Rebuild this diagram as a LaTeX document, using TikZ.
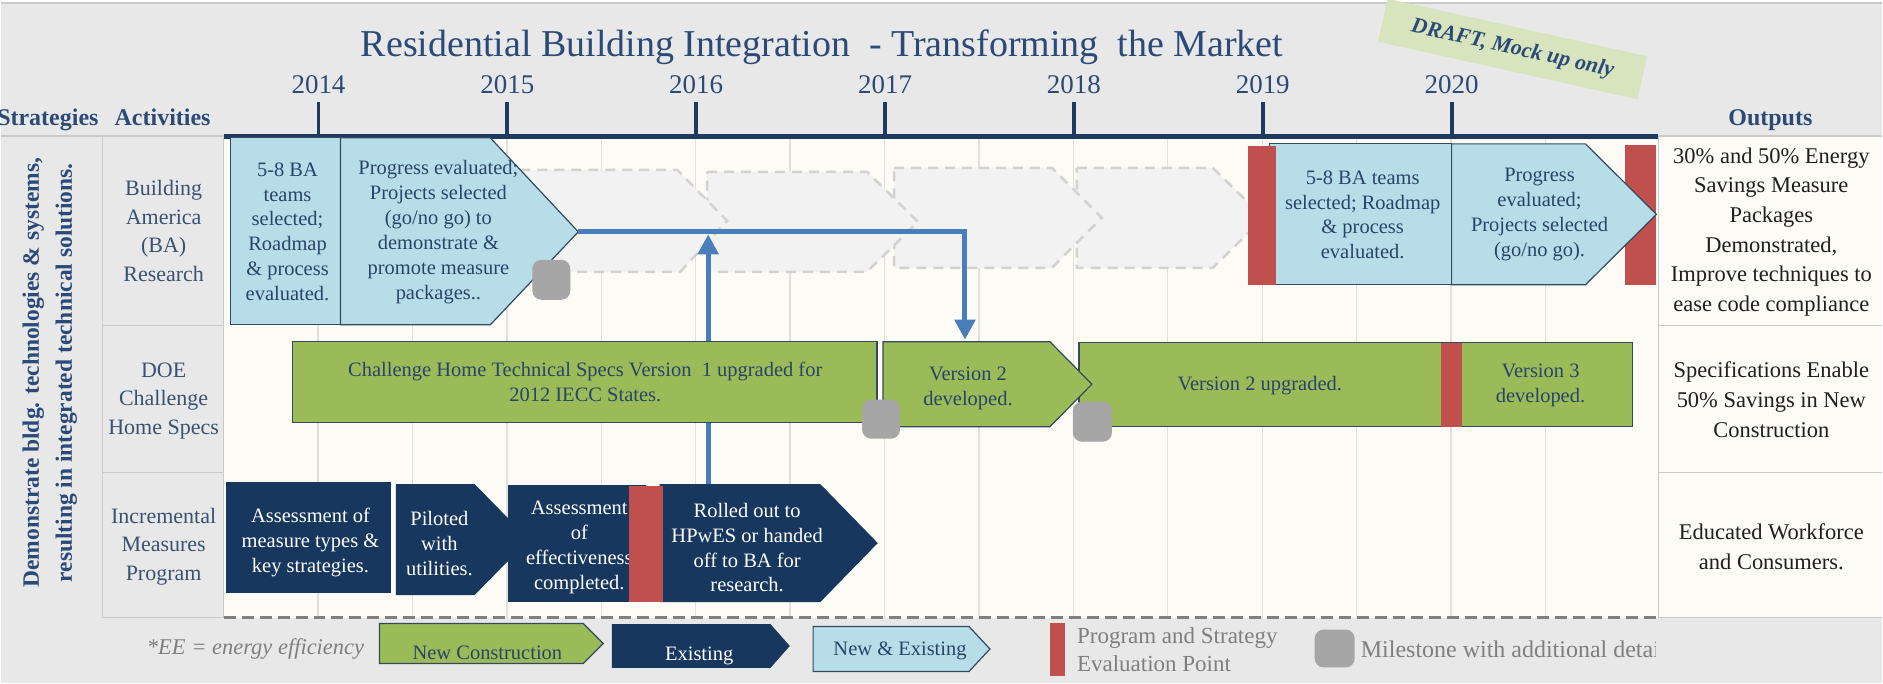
\documentclass[tikz,border=0pt]{standalone}
\usepackage{fontspec}
\setmainfont{Liberation Serif}
\usetikzlibrary{arrows.meta}
\definecolor{bggrey}{HTML}{E8E8E8}
\definecolor{cream}{HTML}{FDFBF5}
\definecolor{gridc}{HTML}{E0E0E0}
\definecolor{cellline}{HTML}{C9C9C9}
\definecolor{navyline}{HTML}{1F3A60}
\definecolor{titleblue}{HTML}{2C4A78}
\definecolor{txtblue}{HTML}{2A4468}
\definecolor{lblc}{HTML}{3A5272}
\definecolor{lblue}{HTML}{B7DDE8}
\definecolor{ngreen}{HTML}{9BBB59}
\definecolor{darkbox}{HTML}{17375E}
\definecolor{redbar}{HTML}{C0504D}
\definecolor{msgrey}{HTML}{A6A6A6}
\definecolor{connc}{HTML}{4A7EBB}
\definecolor{chevfill}{HTML}{F2F2F2}
\definecolor{chevline}{HTML}{D2D2D2}
\definecolor{stampc}{HTML}{D7E4BD}
\definecolor{legtxt}{HTML}{7F7F7F}
\definecolor{edgec}{HTML}{34495E}
\begin{document}
\begin{tikzpicture}[x=1pt,y=-1pt,
  boxtext/.style={align=center, inner sep=0pt, text=txtblue, font=\fontsize{20.5}{25}\selectfont},
  whitetext/.style={boxtext, text=white},
  lbl/.style={align=center, inner sep=0pt, text=lblc, font=\fontsize{22}{28.5}\selectfont},
  outtext/.style={align=center, inner sep=0pt, text=black!88, font=\fontsize{22.5}{29.6}\selectfont},
  hdr/.style={inner sep=0pt, text=titleblue, font=\bfseries\fontsize{24}{26}\selectfont},
  yearlbl/.style={inner sep=0pt, text=titleblue, font=\fontsize{27}{30}\selectfont},
  legtext/.style={inner sep=0pt, text=legtxt, font=\fontsize{23}{28}\selectfont},
  lbox/.style={fill=lblue, draw=edgec, line width=1.2pt},
  gbox/.style={fill=ngreen, draw=edgec, line width=1.2pt},
  dbox/.style={fill=darkbox, draw=darkbox, line width=1pt},
  rbar/.style={fill=redbar, draw=none},
  mstone/.style={fill=msgrey, draw=none, rounded corners=9pt},
  chev/.style={fill=chevfill, draw=chevline, dash pattern=on 10pt off 7pt, line width=2.5pt},
  conn/.style={draw=connc, line width=5pt, -{Triangle[length=20pt,width=20pt]}},
  cell/.style={draw=cellline, line width=1.5pt}
]
% background and frame
\fill[bggrey] (0,0) rectangle (1883,684);
\fill[white] (0,0) rectangle (1883,2);
\draw[cellline, line width=1.5pt] (0,3) -- (1883,3);
\useasboundingbox (0,0) rectangle (1883,684);
\fill[cream] (223,136) rectangle (1883,618);

% grid lines
\foreach \k in {1,...,14} {
  \draw[gridc, line width=1.3pt] ({223+94.5*\k},136) -- ({223+94.5*\k},618);
}

% cell borders
\draw[cell] (0,136) -- (223,136);
\draw[cell] (102,136) -- (102,618) -- (223,618);
\draw[cell] (223,136) -- (223,618);
\draw[cell] (102,326) -- (223,326);
\draw[cell] (102,473) -- (223,473);
\draw[cell] (1659,136) -- (1883,136);
\draw[cell] (1659,136) -- (1659,618) -- (1883,618);
\draw[cell] (1659,326) -- (1883,326);
\draw[cell] (1659,473) -- (1883,473);
\draw[draw=legtxt, line width=3pt, dash pattern=on 12pt off 6pt] (223,618) -- (1659,618);

% title and headers
\node[anchor=base, inner sep=0pt, text=titleblue, font=\fontsize{38}{40}\selectfont] (title) at (822,57)
  {Residential Building Integration\ \ - Transforming\ \ the Market};
\node[hdr, anchor=base east] (hstrat) at (98,126) {Strategies};
\node[hdr, anchor=base] (hact) at (162,126) {Activities};
\node[hdr, anchor=base] (hout) at (1771,126) {Outputs};

% timeline
\draw[navyline, line width=5pt] (223,136.5) -- (1659,136.5);
\foreach \y [count=\i from 0] in {2014,2015,2016,2017,2018,2019,2020} {
  \draw[navyline, line width=4pt] ({318+189*\i},102) -- ({318+189*\i},136);
  \node[yearlbl, anchor=base] (yr\y) at ({318+189*\i},94) {\y};
}

% strategy (rotated)
\node[rotate=90, align=center, inner sep=0pt, text=titleblue, font=\bfseries\fontsize{23.5}{33}\selectfont] (strat) at (49,373)
  {Demonstrate bldg. technologies \& systems,\\resulting in integrated technical solutions.};

% activity labels
\node[lbl] (actba) at (163,231) {Building\\America\\(BA)\\Research};
\node[lbl] (actdoe) at (163,401) {DOE\\Challenge\\Home Specs};
\node[lbl] (actinc) at (163,547) {Incremental\\Measures\\Program};

% ghost chevrons (row 1)
\draw[chev] (1077,168) -- (1213,168) -- (1264,218) -- (1213,268) -- (1077,268) -- cycle;
\draw[chev] (894,168) -- (1052,168) -- (1102,218) -- (1052,268) -- (894,268) -- cycle;
\draw[chev] (707,172) -- (867,172) -- (918,222) -- (867,272) -- (707,272) -- cycle;
\draw[chev] (520,170) -- (677,170) -- (727,221) -- (680,272) -- (520,272) -- cycle;

% row 1 boxes (BA)
\draw[lbox] (230,138) rectangle (340,325);
\node[boxtext] (ba1) at (287,232) {5-8 BA\\teams\\selected;\\Roadmap\\\& process\\evaluated.};
\draw[lbox] (340,138) -- (490,138) -- (578,232) -- (490,325) -- (340,325) -- cycle;
\node[boxtext] (ba2) at (438,232) {Progress evaluated;\\Projects selected\\(go/no go) to\\demonstrate \&\\promote measure\\packages..};
\draw[mstone] (532,260) rectangle (570,300);

\draw[lbox] (1270,144) rectangle (1452,285);
\node[boxtext] (ba3) at (1363,215) {5-8 BA teams\\selected; Roadmap\\\& process\\evaluated.};
\fill[rbar] (1248,146) rectangle (1276,285);
\fill[rbar] (1626,145) rectangle (1657,285);
\draw[lbox] (1452,144) -- (1586,144) -- (1657,214.5) -- (1586,285) -- (1452,285) -- cycle;
\node[boxtext] (ba4) at (1540,215) {Progress\\evaluated;\\Projects selected\\(go/no go).};

% connectors
\coordinate (batip) at (578,232);
\coordinate (v2top) at (965,340);
\coordinate (rolltop) at (708,486);
\coordinate (joinpt) at (708,234.5);
\draw[conn] (batip) -| (v2top);
\draw[conn] (rolltop) -- (joinpt);

% row 2 boxes (DOE)
\draw[gbox] (292,342) rectangle (877,423);
\node[boxtext] (ch1) at (585,382) {Challenge Home Technical Specs Version\ \ 1 upgraded for\\2012 IECC States.};
\draw[gbox] (1079,343) rectangle (1452,427);
\node[boxtext] (ch3) at (1260,386) {Version 2 upgraded.};
\draw[gbox] (1452,343) rectangle (1633,427);
\fill[rbar] (1441,343) rectangle (1462,427);
\node[boxtext] (ch4) at (1541,386) {Version 3\\developed.};
\draw[gbox] (883,342) -- (1050,342) -- (1092,384.5) -- (1050,427) -- (883,427) -- cycle;
\node[boxtext] (ch2) at (968,389) {Version 2\\developed.};
\draw[mstone] (862,400) rectangle (900,439);
\draw[mstone] (1073,402) rectangle (1112,442);

% row 3 boxes (Incremental)
\draw[dbox] (226,483) rectangle (390,593);
\node[whitetext] (in1) at (310,543) {Assessment of\\measure types \&\\key strategies.};
\draw[dbox] (396,485) -- (474,485) -- (528,540) -- (474,595) -- (396,595) -- cycle;
\node[whitetext] (in2) at (439,544) {Piloted\\with\\utilities.};
\draw[dbox] (508,486) rectangle (645,602);
\node[whitetext] (in3) at (579,548) {Assessment\\of\\effectiveness\\completed.};
\draw[dbox] (660,485) -- (820,485) -- (877,543.5) -- (820,602) -- (660,602) -- cycle;
\fill[rbar] (629,486) rectangle (663,602);
\node[whitetext] (in4) at (747,548) {Rolled out to\\HPwES or handed\\off to BA for\\research.};

% outputs
\node[outtext] (out1) at (1772,232) {30\% and 50\% Energy\\Savings Measure\\Packages\\Demonstrated,\\Improve techniques to\\ease code compliance};
\node[outtext] (out2) at (1772,400) {Specifications Enable\\50\% Savings in New\\Construction};
\node[outtext] (out3) at (1772,547) {Educated Workforce\\and Consumers.};

% legend
\node[legtext, font=\itshape\fontsize{22.5}{28}\selectfont] (ee) at (255,650) {*EE = energy efficiency};
\draw[gbox] (379,624) -- (583,624) -- (603,644) -- (583,664) -- (379,664) -- cycle;
\node[boxtext] (lgnc) at (487,653) {New Construction};
\draw[dbox] (612,625) -- (770,625) -- (789,646.5) -- (770,668) -- (612,668) -- cycle;
\node[whitetext] (lgex) at (699,656) {Existing};
\draw[lbox] (813,627) -- (969,627) -- (990,649.5) -- (969,672) -- (813,672) -- cycle;
\node[boxtext] (lgne) at (900,651) {New \& Existing};
\fill[rbar] (1050,623) rectangle (1065,677);
\node[legtext, align=left, anchor=west] (lgev) at (1077,650) {Program and Strategy\\Evaluation Point};
\draw[mstone] (1315,630) rectangle (1355,668);
\begin{scope}
  \clip (1356,620) rectangle (1656,684);
  \node[legtext, anchor=west, font=\fontsize{24}{28}\selectfont] (lgms) at (1361,650) {Milestone with additional details};
\end{scope}

% draft stamp
\node[rotate=-12.5, fill=stampc, minimum width=266pt, minimum height=44pt, inner sep=0pt,
      text=titleblue, font=\bfseries\itshape\fontsize{22}{24}\selectfont] (stamp) at (1513,49) {DRAFT, Mock up only};
\end{tikzpicture}
\end{document}
